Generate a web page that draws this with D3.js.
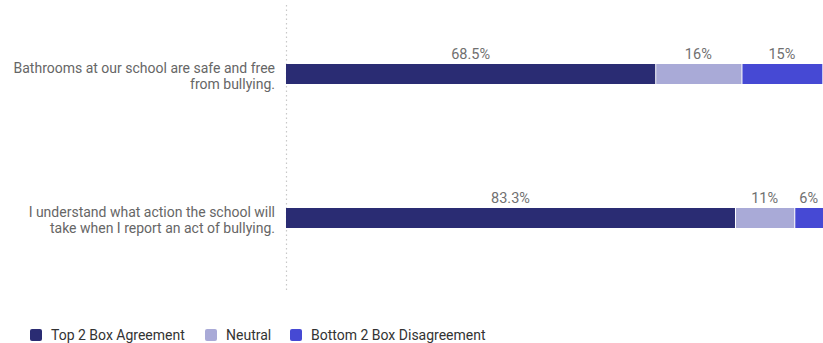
<!DOCTYPE html>
<html>
<head>
<meta charset="utf-8">
<script src="https://cdn.jsdelivr.net/npm/d3@7"></script>
<style>
  html, body { margin: 0; padding: 0; background: #fff; overflow: hidden; }
  svg { display: block; font-family: Roboto, "Open Sans", sans-serif; }
</style>
</head>
<body>
<svg id="chart" width="823" height="343"></svg>
<script>
// Survey statements (each label split over two lines)
const statements = [
  ["Bathrooms at our school are safe and free", "from bullying."],
  ["I understand what action the school will", "take when I report an act of bullying."]
];
const seriesNames = ["Top 2 Box Agreement", "Neutral", "Bottom 2 Box Disagreement"];
const agreement = [68.5, 83.3];
const neutral = [16, 11];
const disagreement = [15, 6];
const valueLabels = [["68.5%", "16%", "15%"], ["83.3%", "11%", "6%"]];
const colors = ["#2a2c73", "#a9aad7", "#4649d4"];

const svg = d3.select("#chart");
const x = d3.scaleLinear().domain([0, 100]).range([286, 825]);
const y = d3.scaleBand().domain(d3.range(statements.length)).range([2, 290]);
const barH = 20;

// Dotted baseline
svg.append("line")
  .attr("x1", x(0) + 0.5).attr("x2", x(0) + 0.5)
  .attr("y1", 5).attr("y2", 290)
  .attr("stroke", "#c8c8c8").attr("stroke-width", 1.2)
  .attr("stroke-dasharray", "1.5,3");

const series = [agreement, neutral, disagreement];

statements.forEach((lines, i) => {
  const cy = y(i) + y.bandwidth() / 2;
  const barTop = cy - barH / 2;
  let acc = 0;
  series.forEach((vals, s) => {
    const v = vals[i];
    const x0 = x(acc), x1 = x(acc + v);
    svg.append("rect")
      .attr("x", x0 + (s > 0 ? 1 : 0))
      .attr("y", barTop)
      .attr("width", Math.max(0, x1 - x0 - (s > 0 ? 1 : 0)))
      .attr("height", barH)
      .attr("fill", colors[s]);
    svg.append("text")
      .attr("x", (x0 + Math.min(x1, 823)) / 2)
      .attr("y", barTop - 5)
      .attr("text-anchor", "middle")
      .attr("fill", "#707070")
      .attr("font-size", 14.5)
      .text(valueLabels[i][s]);
    acc += v;
  });
  // Category label, right-aligned, one text per line
  lines.forEach((ln, k) => {
    svg.append("text")
      .attr("text-anchor", "end")
      .attr("fill", "#666")
      .attr("font-size", 14)
      .attr("x", 275)
      .attr("y", cy - 1.5 + k * 16.5)
      .text(ln);
  });
});

// Legend
const legendX = [30, 205, 290];
const lg = svg.append("g");
seriesNames.forEach((name, s) => {
  lg.append("rect")
    .attr("x", legendX[s]).attr("y", 329)
    .attr("width", 12).attr("height", 12).attr("rx", 2)
    .attr("fill", colors[s]);
  lg.append("text")
    .attr("x", legendX[s] + 21).attr("y", 340)
    .attr("fill", "#333").attr("font-size", 14)
    .text(name);
});
</script>
</body>
</html>
